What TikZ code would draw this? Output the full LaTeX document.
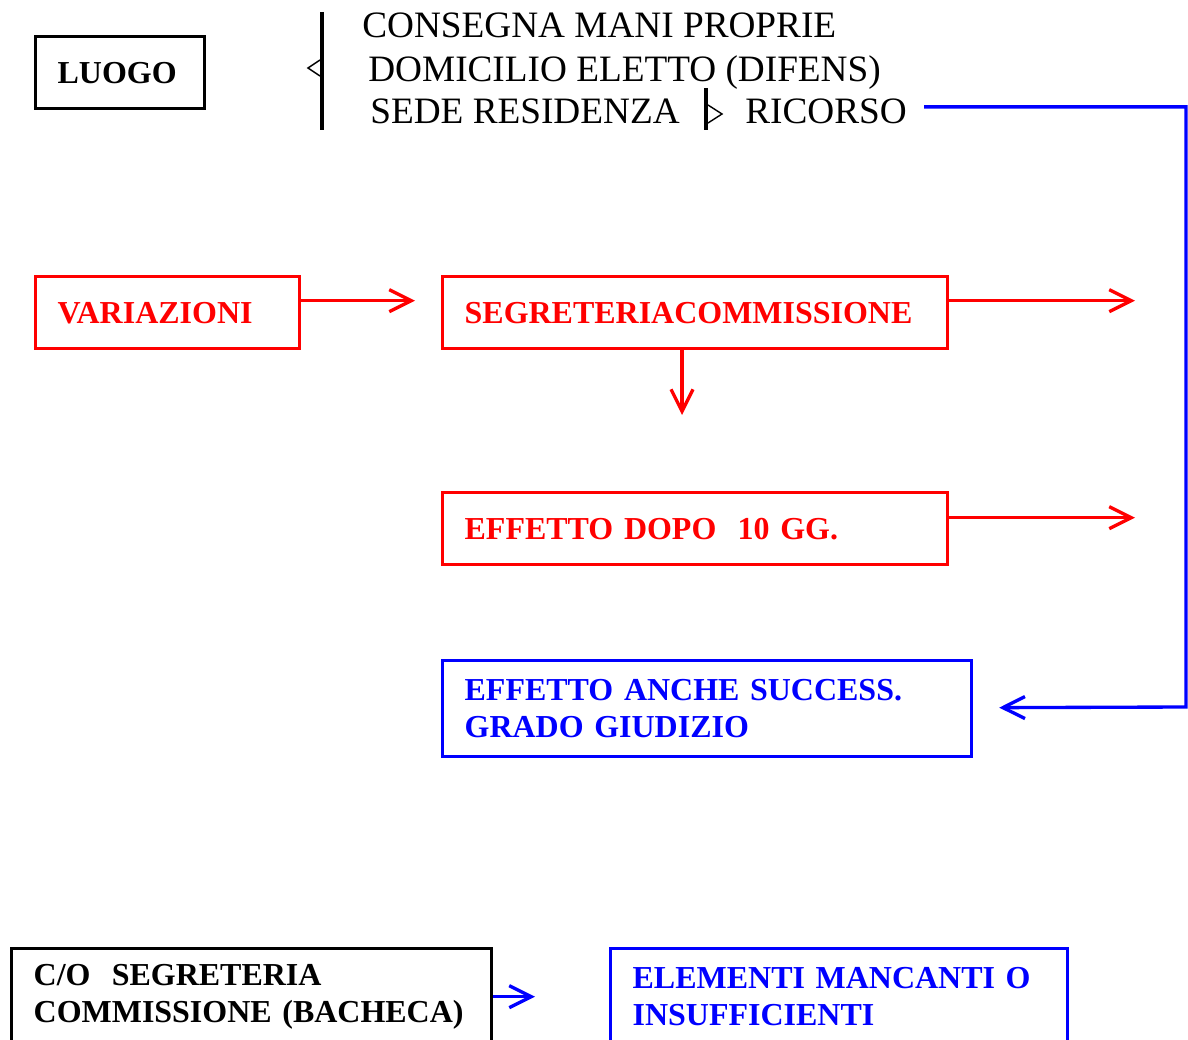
\documentclass[tikz,border=0pt]{standalone}
\usepackage{fontspec}
\setmainfont{Liberation Serif}
\usetikzlibrary{arrows.meta}

\tikzset{
    boite/.style={draw, line width=1.9pt, anchor=north west, inner xsep=0.44cm, inner ysep=0pt,
                  align=left, font=\bfseries\fontsize{18.2}{21}\selectfont},
    fleche/.style={line width=1.9pt, -{Straight Barb[length=0.44cm, width=0.44cm]}},
    trait/.style={line width=2.1pt},
    voce/.style={anchor=base west, inner sep=0pt, font=\fontsize{21.2}{25}\selectfont}
}

\begin{document}
\begin{tikzpicture}[x=0.02cm, y=-0.02cm]
    \clip (0,0) rectangle (1188,1040);

    % Luogo e notifica
    \node[boite, minimum width=3.38cm, minimum height=1.44cm, text width=2.5cm] (luogo) at (34,35) {LUOGO};

    \draw[trait] (322,12) -- (322,130);
    \draw[line width=0.8pt] (320,60) -- (308,68) -- (320,76);
    \node[voce] (consegna) at (362,38) {CONSEGNA MANI PROPRIE};
    \node[voce] (domicilio) at (368,82) {DOMICILIO ELETTO (DIFENS)};
    \node[voce] (sede) at (370,124) {SEDE RESIDENZA};
    \draw[trait] (706,88) -- (706,130);
    \draw[line width=0.8pt] (708,105) -- (722,114) -- (708,123);
    \node[voce] (ricorso) at (745,124) {RICORSO};

    % Variazioni
    \node[boite, red, minimum width=5.28cm, minimum height=1.44cm, text width=4.4cm] (variazioni) at (34,275) {VARIAZIONI};
    \node[boite, red, minimum width=10.1cm, minimum height=1.44cm, text width=9.22cm] (segreteria) at (441,275) {SEGRETERIACOMMISSIONE};
    \node[boite, red, minimum width=10.1cm, minimum height=1.44cm, text width=9.22cm] (effetto) at (441,491) {EFFETTO DOPO\ \ 10 GG.};
    \node[boite, blue, minimum width=10.58cm, minimum height=1.92cm, text width=9.7cm] (effanche) at (441,659) {EFFETTO ANCHE SUCCESS.\\GRADO GIUDIZIO};

    \coordinate (segout) at (1135,299);
    \coordinate (segdown) at (682,415);
    \coordinate (effout) at (1135,516);
    \coordinate (angolo) at (1186,707);

    \draw[fleche, red, shorten >=0.52cm] ([yshift=0.24cm]variazioni.east) -- ([yshift=0.24cm]segreteria.west);
    \draw[fleche, red] ([yshift=0.24cm]segreteria.east) -- ([yshift=0.24cm]segreteria.east -| segout);
    \draw[fleche, red] (segreteria.south -| segdown) -- (segdown);
    \draw[fleche, red] ([yshift=0.22cm]effetto.east) -- ([yshift=0.22cm]effetto.east -| effout);

    % Ricorso
    \draw[fleche, blue, shorten <=0.34cm, shorten >=0.52cm] ([yshift=0.1cm]ricorso.east) -| (angolo) -- (effanche);

    % Bacheca
    \node[boite, minimum width=9.6cm, minimum height=1.92cm, text width=8.72cm] (bacheca) at (10,947) {C/O\ \ SEGRETERIA\\COMMISSIONE (BACHECA)};
    \node[boite, blue, minimum width=9.14cm, minimum height=1.92cm, text width=8.26cm] (elementi) at (609,947) {ELEMENTI MANCANTI O\\INSUFFICIENTI};

    \draw[fleche, blue, shorten >=1.48cm] (bacheca) -- (elementi);
\end{tikzpicture}
\end{document}
